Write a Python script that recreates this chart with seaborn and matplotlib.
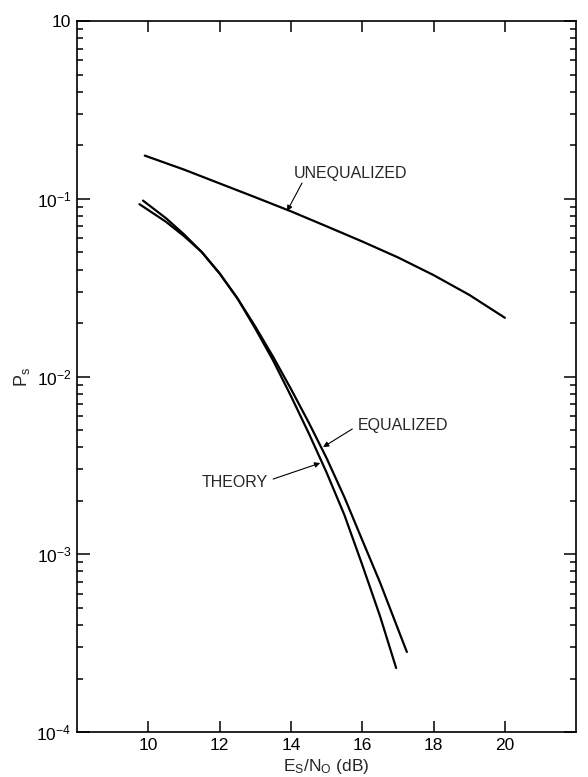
import matplotlib
matplotlib.use("Agg")
import numpy as np
import pandas as pd
import seaborn as sns
import matplotlib.pyplot as plt
from matplotlib.ticker import LogLocator, NullFormatter, FixedLocator

# ---- data ----
unequalized_snr = [9.9, 11.0, 12.0, 13.0, 14.0, 15.0, 16.0, 17.0, 18.0, 19.0, 20.0]
unequalized_ps = [0.175, 0.146, 0.122, 0.102, 0.085, 0.070, 0.0575, 0.0468, 0.0372, 0.0288, 0.0214]

theory_snr = [9.75, 10.5, 11.0, 11.5, 12.0, 12.5, 13.0, 13.5, 14.0, 14.5, 15.0, 15.5, 16.0, 16.5, 16.95]
theory_ps = [0.0933, 0.0741, 0.0617, 0.0501, 0.0380, 0.0275, 0.0186, 0.0123, 0.00776,
             0.00479, 0.00288, 0.00166, 0.000871, 0.000447, 0.000229]

equalized_snr = [9.85, 10.5, 11.0, 11.5, 12.0, 12.5, 13.0, 13.5, 14.0, 14.5, 15.0, 15.5,
                 16.0, 16.5, 17.0, 17.25]
equalized_ps = [0.0977, 0.0776, 0.0631, 0.0501, 0.0380, 0.0275, 0.0191, 0.0129, 0.00851,
                0.00550, 0.00347, 0.00209, 0.00120, 0.000692, 0.000380, 0.000282]

x_ticks = [10, 12, 14, 16, 18, 20]
x_tick_labels = ["10", "12", "14", "16", "18", "20"]
y_ticks = [1e-4, 1e-3, 1e-2, 1e-1, 1.0]
y_tick_labels = ["10$^{-4}$", "10$^{-3}$", "10$^{-2}$", "10$^{-1}$", "10"]

# annotation (label text position, arrow tail, arrow tip)
ann_labels = ["UNEQUALIZED", "EQUALIZED", "THEORY"]
ann_text_xy = [(15.66, 0.1396), (15.86, 0.00533), (13.36, 0.00255)]
ann_text_ha = ["center", "left", "right"]
ann_tail_xy = [(14.31, 0.1227), (15.72, 0.00507), (13.50, 0.00265)]
ann_tip_xy = [(13.89, 0.0853), (14.90, 0.00401), (14.82, 0.00326)]

# ---- style ----
sns.set_style("ticks")
plt.rcParams["font.family"] = ["Liberation Sans", "DejaVu Sans"]
plt.rcParams["mathtext.fontset"] = "custom"
plt.rcParams["mathtext.rm"] = "Liberation Sans"
plt.rcParams["mathtext.it"] = "Liberation Sans:italic"
plt.rcParams["mathtext.default"] = "regular"

fig = plt.figure(figsize=(5.88, 7.77), dpi=100)
ax = fig.add_axes([0.131, 0.0579, 0.849, 0.915])

df = pd.concat([
    pd.DataFrame({"snr": unequalized_snr, "ps": unequalized_ps, "curve": "UNEQUALIZED"}),
    pd.DataFrame({"snr": theory_snr, "ps": theory_ps, "curve": "THEORY"}),
    pd.DataFrame({"snr": equalized_snr, "ps": equalized_ps, "curve": "EQUALIZED"}),
])

sns.lineplot(data=df, x="snr", y="ps", units="curve", estimator=None, color="black",
             linewidth=1.6, ax=ax, legend=False)

ax.set_yscale("log")
ax.set_xlim(8, 22)
ax.set_ylim(1e-4, 1.0)

ax.xaxis.set_major_locator(FixedLocator(x_ticks))
ax.set_xticklabels(x_tick_labels)
ax.yaxis.set_major_locator(FixedLocator(y_ticks))
ax.set_yticklabels(y_tick_labels)
ax.yaxis.set_minor_locator(LogLocator(base=10, subs=np.arange(2, 10), numticks=20))
ax.yaxis.set_minor_formatter(NullFormatter())

ax.tick_params(which="both", direction="in", top=True, right=True, width=1.1,
               labelsize=12.5, color="black", labelcolor="black")
ax.tick_params(which="major", length=9, pad=4)
ax.tick_params(which="minor", length=4)
ax.tick_params(axis="x", which="major", length=8)

for sp in ax.spines.values():
    sp.set_linewidth(1.2)
    sp.set_color("black")

ax.set_xlabel("E$_S$/N$_O$ (dB)", fontsize=12.5, labelpad=3)
ax.set_ylabel("P$_s$", fontsize=13, labelpad=3)

for lab, txy, ha, tail, tip in zip(ann_labels, ann_text_xy, ann_text_ha, ann_tail_xy, ann_tip_xy):
    ax.text(txy[0], txy[1], lab, ha=ha, va="center", fontsize=11.5)
    ax.annotate("", xy=tip, xytext=tail,
                arrowprops=dict(arrowstyle="-|>", lw=0.8, color="black",
                                mutation_scale=8, shrinkA=0, shrinkB=0))

fig.savefig("out.png", dpi=100, facecolor="white")
